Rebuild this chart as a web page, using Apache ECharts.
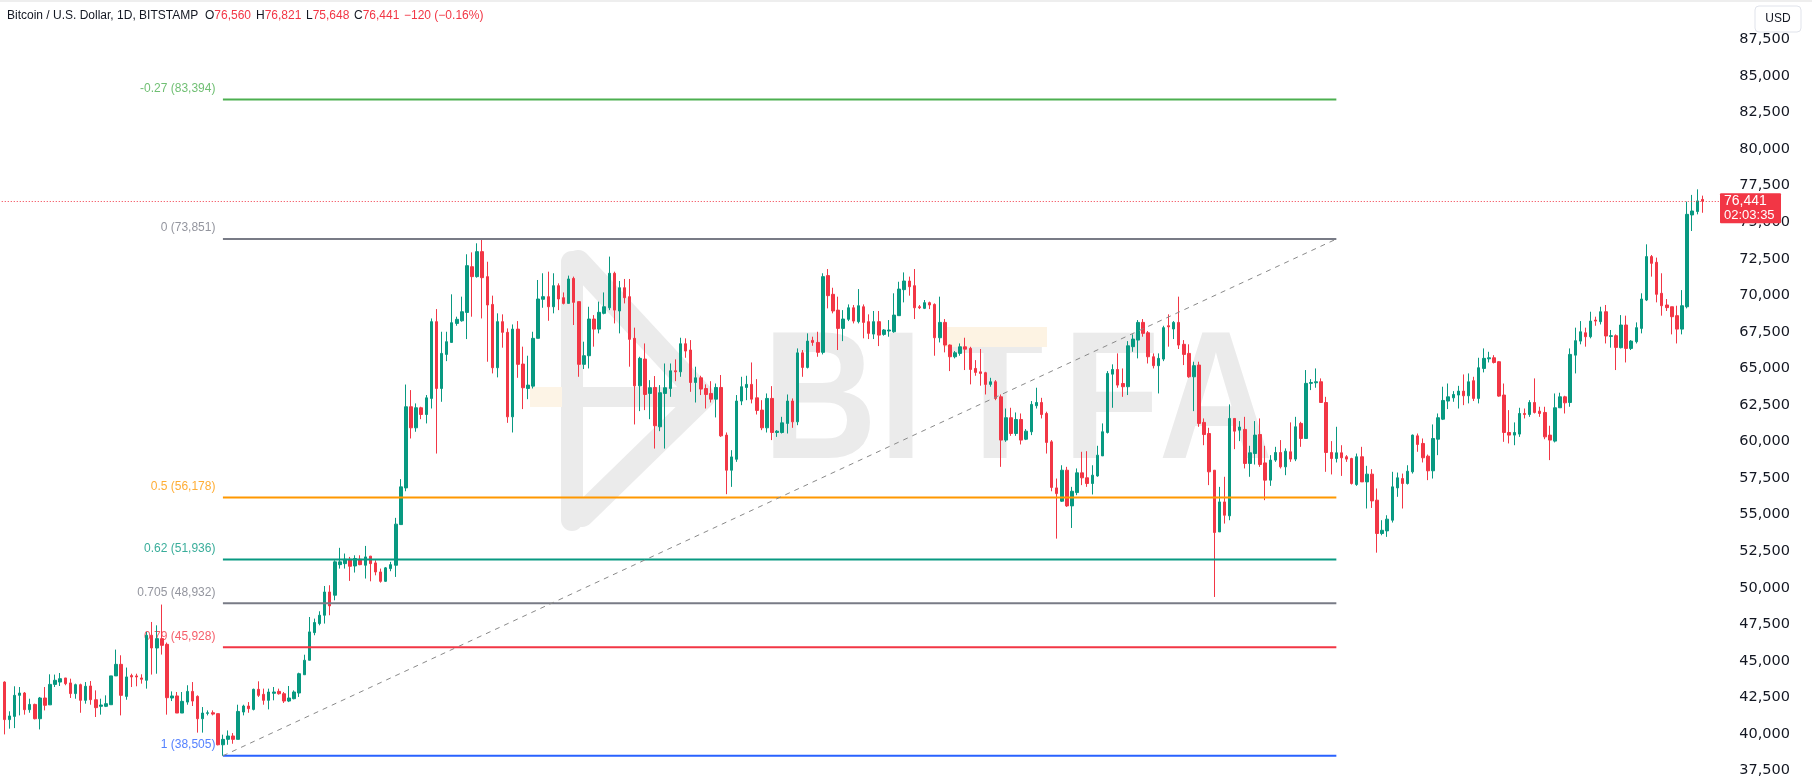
<!DOCTYPE html>
<html><head><meta charset="utf-8">
<script src="https://cdn.jsdelivr.net/npm/echarts@6/dist/echarts.min.js"></script>
<style>html,body{margin:0;padding:0;background:#fff;}#c{width:1812px;height:780px;}</style>
</head><body><div id="c"></div>
<script>
// ---- candle values (BTC/USD 1D, BITSTAMP) ----
const open = [
43550,40980,41200,42640,42800,41660,42020,41040,42460,41990,
43390,43550,43830,43490,42760,43370,42300,43280,42340,41890,
41890,42000,43970,44760,42570,43990,43970,43830,43670,46750,
45880,46520,46130,42460,42600,41430,42180,42910,42570,41040,
41410,41450,41390,
39260,39630,39860,39630,41500,41910,41680,
43050,42710,42300,42780,42910,42750,42250,42410,42800,44050,
45040,46930,47550,48120,49710,49490,51580,51650,51950,51490,
51950,51540,52160,51700,51080,50440,51310,51540,54320,56830,
62380,60940,62310,61850,62950,68200,63630,65960,66780,68080,
68260,68830,71960,71280,72990,71280,69380,65050,68200,67470,
61690,67690,65300,63630,63790,67060,69730,69910,69220,70660,
69840,69450,71160,69570,65280,65870,68380,
67690,68770,69150,
71510,68930,70520,69910,67060,63810,65640,63290,63700,61010,
63290,63630,64840,64770,66690,66260,64040,64360,63630,63290,
62900,63700,60440,58040,58790,62770,63700,63910,62990,62150,
60940,62950,60620,60620,
61240,62770,61350,66070,65070,66920,
66780,66100,71350,70070,68990,67740,68360,69150,68200,69220,
68200,67350,68200,67330,67560,67510,68610,70390,70980,70660,
69220,69110,69500,69380,67100,68150,66600,65800,66030,66480,
66370,65000,
64770,64710,63910,64090,63060,60100,61630,60550,
61510,60160,60670,62450,62670,61920,59980,56830,55920,58040,
55600,56510,57860,57520,57130,57650,59020,60620,64610,64930,
63970,63750,66490,66940,68150,67440,65800,65190,65640,
67920,67700,68150,66650,66030,64430,65230,61310,60550,58040,53820,
55870,54920,61580,60780,60830,58500,59180,60480,58540,57360,
58730,59250,58270,59300,58800,61240,60210,63980,64020,64090,
62670,59250,58840,59230,58960,58840,
57060,58960,57240,57770,55990,53710,53890,54620,56830,57470,
57130,57930,60390,59870,59000,58000,60160,61530,62770,62990,
63180,63450,63130,64160,62950,65000,65660,65730,65460,63180,
60620,60440,60510,61920,61850,62670,62080,
61990,60440,60030,62310,63060,62670,65910,66870,67440,67170,
68310,68200,68880,67190,67240,66420,67970,66370,66830,67740,
69680,72650,72260,70140,69340,69220,68610,67690,69220,75500,75730,76560];
const high = [
43600,41550,43260,43210,42870,42410,42070,42530,43210,44080,
44060,44170,43830,43780,43440,43440,43550,43620,42980,42410,
42640,43970,45770,45380,44540,44120,44120,44080,46980,47660,
47430,48850,46250,42910,42870,42870,43330,43550,42640,41840,
41610,41610,41390,
39950,40240,40060,42000,42000,42180,43100,
43600,43100,43100,43210,43100,42870,43280,42980,44190,45420,
48000,47890,48390,50120,50170,51880,52730,52340,52110,52220,
52220,52860,52180,51880,51310,51420,51770,54780,57430,63900,
63520,62610,62380,63180,68420,69060,67510,67510,70070,68540,
69910,72810,72940,73560,73851,72300,69980,68770,68700,67740,
68010,68240,66490,65870,67510,71050,71510,71620,71510,70820,
70200,71350,71280,69570,66830,69220,68650,
69570,70200,72650,
71620,70980,71120,71120,67790,65800,66710,64200,64480,63860,
65340,65340,65620,67100,67060,66940,65120,64500,63910,64130,
63970,64550,60620,59410,63180,64430,64500,65410,64270,62830,
63290,63790,60780,61690,
63220,62950,66370,66260,67400,67170,
67510,71510,71800,70520,69910,68990,69380,69340,70430,69380,
68700,68930,68930,67690,68310,70140,70930,71570,71280,71800,
69340,69680,69570,69450,69910,68380,66640,66190,66710,67100,
66480,65570,
66330,64770,64360,64200,63220,62260,62310,61990,
61920,60850,62770,63680,62990,62040,60100,57470,58380,58270,
56900,58160,59300,59340,58380,59710,61240,64820,65280,66030,
65000,66870,67330,68310,68380,67560,66030,66030,67920,
68700,68240,69910,66940,66650,65460,65460,61580,60940,58040,56900,
57590,62540,61580,61400,61690,59710,61400,61580,59710,59070,
59640,60100,59530,61310,61690,61350,64890,64270,65000,64320,
63060,60030,61010,59750,59070,58890,
59180,59640,58340,58110,56790,54620,54960,57930,57880,57810,
58380,60480,60550,60210,59110,61170,61920,63750,63970,63450,
63810,64590,64660,64430,65730,66370,66140,65910,65500,63970,
62150,61310,62310,62260,62830,64320,62380,
62380,61080,63290,63340,63130,66370,67790,68240,67790,68880,
68540,69220,69340,67630,67330,68650,68610,66940,68150,70140,
73490,72760,72580,71510,69750,69220,69290,70360,76410,76870,77250,76821];
const low = [
39970,40360,40400,41270,41320,41450,41000,40310,41610,41990,
43210,43280,43330,42460,42410,41450,42070,42000,41160,41320,
41840,42000,43970,41270,42340,43210,43260,43440,43100,44060,
44120,45430,41320,42250,41430,41430,42000,41910,40090,40090,
41270,41270,39220,
38505,39260,39330,39630,41270,41450,41610,
42530,42000,41680,42300,42690,42120,42180,42370,42530,44050,
45040,46750,47430,47550,48120,49140,51310,51310,50470,51040,
51540,50630,50440,50850,50350,50400,51130,50740,54320,56600,
60210,60670,61530,61240,62260,59180,62720,65500,66780,67920,
68200,67010,68540,71210,68420,65460,64660,64390,66420,61280,
60620,64360,62220,62900,63630,67060,69150,68260,68770,68990,
69380,69450,67970,64430,64960,65000,66490,
67400,68700,68990,
68080,67400,69450,65120,61170,62080,62150,61530,59520,60710,
59520,63060,64130,64430,65730,63400,62670,63180,62260,62670,
61650,60320,56400,56900,58610,62490,62830,62610,61850,60780,
60620,60100,60320,60550,
60550,60940,61120,64430,65000,66550,
65800,65960,69110,68770,66260,66870,68240,68080,68080,67060,
67010,67010,66530,67240,67170,67440,68610,69520,69980,68380,
69060,69060,69060,65870,66780,66100,64820,65690,65870,64890,
63910,64500,
63820,63220,63750,62830,58270,59980,60390,60390,
59800,60100,60440,62260,61580,59180,56600,53360,55870,55530,
54090,56330,57020,56900,56380,57590,59020,60550,62310,63680,
63060,63180,66140,65690,67170,65340,65000,63290,65500,
66490,67010,66330,65230,64360,62080,61010,59750,57020,49370,53820,
54390,54620,59480,60030,58160,57590,58430,58270,55990,56970,
58610,58160,57700,58610,58660,59640,60210,63520,63680,62670,
57930,57750,58570,57650,58610,57060,
56970,57240,55420,55460,52400,53590,53480,54460,56220,55420,
57060,57810,59300,58570,57360,57470,59070,61470,62220,62720,
62260,62490,62610,62770,62610,64730,65410,65340,63060,59980,
59870,59750,60320,61580,61690,61920,61690,
60160,58730,59940,62310,61920,62380,64660,66650,66490,67060,
67920,68010,66710,66420,64890,66370,65410,66260,66710,67400,
69610,71280,69520,68610,68930,67330,66710,67330,69110,74400,75540,75648];
const close = [
40980,41230,42640,42800,41660,42020,41040,42460,41960,43390,
43670,43780,43440,42760,43370,42300,43260,42340,41800,41980,
42070,43970,44760,42640,43900,43900,43900,43740,46750,45880,
46520,46060,42480,42600,41430,42230,42910,42250,41040,41430,
41450,41360,39260,
39630,39860,39630,41540,41910,41730,43050,
42640,42300,42870,42870,42750,42250,42460,42870,44120,45040,
46980,47620,48120,49710,48760,51770,51770,51950,51470,52000,
51580,52110,51650,51080,50440,51360,51580,54350,56900,62380,
60940,62310,61850,62990,68200,63630,66030,66830,68130,68360,
68880,72030,71280,72990,71210,69340,65050,68200,67470,61690,
67690,65280,63680,63860,67060,69750,69910,69220,70660,69750,
69450,71120,69520,65280,65870,68380,67690,
68840,69220,71510,
68990,70520,69840,66990,63810,65690,63220,63680,61080,63340,
63680,64840,64770,66690,66190,64040,64360,63590,63220,62900,
63700,60390,58040,58950,62770,63750,63910,62900,62130,60940,
62950,60620,60710,61280,
62770,61350,66070,65070,66870,66780,
66100,71280,69980,68930,67740,68380,69150,68240,69290,68150,
67400,68200,67280,67630,67630,68650,70430,70980,70590,69150,
69150,69500,69340,67100,68150,66600,65800,66070,66480,66320,
64930,64730,
64660,63910,64090,62950,60100,61630,60550,61510,
60100,60710,62540,62670,61850,59940,56860,56440,58040,55600,
56600,57860,57520,57130,57700,59070,60670,64660,64930,63860,
63750,66550,67010,68150,67400,65800,65190,65690,67790,
67850,68150,66600,65960,64430,65190,61240,60480,57930,53780,55870,
54960,61580,60710,60990,58500,59230,60440,58430,57360,58730,
59250,58270,59340,58800,61010,60210,63980,64040,64090,62670,
59250,58840,59230,58890,58800,57130,
58960,57240,57770,55940,53710,53930,54690,56900,57520,57130,
57970,60440,59800,58890,58000,60210,61630,62810,63060,63220,
63450,63130,64090,62950,65050,65690,65730,65410,63110,60620,
60440,60620,61920,61850,62670,61990,61920,
60320,60100,62310,63060,62650,65960,66900,67510,67170,68240,
68240,68880,67220,67240,66440,67970,66370,66870,67790,69750,
72650,72190,70070,69290,69160,68540,67690,69290,75540,75770,76460,76441];

// ---- Fibonacci retracement drawing ----
const fibLevels = ['-0.27', '0', '0.5', '0.62', '0.705', '0.79', '1'];
const fibPrices = [83394, 73851, 56178, 51936, 48932, 45928, 38505];
const fibColors = ['#4caf50', '#787b86', '#ff9800', '#089981', '#787b86', '#f23645', '#2962ff'];
const fibStartBar = 43, fibEndBar = 262;

// ---- axis ticks / header ----
const yMin = 37500, yMax = 87500, yStep = 2500;
const lastPrice = 76441, countdown = '02:03:35';
const legendTitle = 'Bitcoin / U.S. Dollar, 1D, BITSTAMP';
const legendOHLC = [['O', '76,560'], ['H', '76,821'], ['L', '75,648'], ['C', '76,441']];
const legendChange = '\u2212120 (\u22120.16%)';

const padBars = 3;
const categories = [];
for (let i = 0; i < open.length + padBars; i++) categories.push('d' + i);

const fmt = v => v.toLocaleString('en-US');
const candleData = open.map((o, i) => [o, close[i], low[i], high[i]]);

const series = [{
  type: 'candlestick', data: candleData, z: 3, barWidth: 3,
  itemStyle: { color: '#089981', color0: '#f23645', borderColor: '#089981', borderColor0: '#f23645', borderWidth: 1 },
  markLine: {
    silent: true, symbol: ['none', 'none'], animation: false,
    lineStyle: { color: '#f23645', type: [1, 2], width: 1 },
    label: { show: false },
    data: [{ yAxis: lastPrice }]
  }
}];
fibPrices.forEach((p, k) => {
  series.push({
    type: 'line', z: 4, silent: true, symbol: 'none',
    lineStyle: { color: fibColors[k], width: 2 },
    data: [[fibStartBar, p], [fibEndBar, p]]
  });
});
series.push({
  type: 'line', z: 4, silent: true, symbol: 'none',
  lineStyle: { color: '#8a8a8a', width: 1, type: [5, 5] },
  data: [[fibStartBar, fibPrices[6]], [fibEndBar, fibPrices[1]]]
});
series.push({
  type: 'scatter', z: 2, silent: true, symbolSize: 1,
  itemStyle: { color: 'rgba(0,0,0,0)' },
  data: fibPrices.map((p, k) => ({
    value: [fibStartBar, p],
    label: {
      show: true, position: 'left', distance: 7, offset: [0, -11],
      color: fibColors[k], fontSize: 12, fontFamily: 'Liberation Sans',
      formatter: fibLevels[k] + ' (' + fmt(p) + ')'
    }
  }))
});

const chart = echarts.init(document.getElementById('c'), null, { renderer: 'canvas' });
chart.setOption({
  animation: false,
  backgroundColor: '#ffffff',
  grid: { left: 1.76, right: 91.8, top: 39.5, bottom: 9.5, containLabel: false },
  xAxis: { type: 'category', data: categories, show: false, boundaryGap: true },
  yAxis: {
    type: 'value', position: 'right', min: yMin, max: yMax, interval: yStep, scale: false,
    splitLine: { show: false }, axisLine: { show: false }, axisTick: { show: false },
    axisLabel: { margin: 19, color: '#131722', fontSize: 14.5, fontFamily: 'DejaVu Sans',
      padding: [0, 0, 4, 0],
      showMinLabel: true, showMaxLabel: true, formatter: v => fmt(v) }
  },
  series: series
});

// ---- decorations: watermark, legend, USD box, price tag ----
const py = chart.convertToPixel({ yAxisIndex: 0 }, lastPrice);
const wm = '#ebebeb';
const g = [];
g.push({ type: 'rect', z: 100, shape: { x: 0, y: 0, width: 1812, height: 2 }, style: { fill: '#eeeeee' } });
// watermark logo
g.push({ type: 'polyline', z: 0, silent: true, shape: { points: [[572, 262], [572, 520]] }, style: { stroke: wm, lineWidth: 22, lineCap: 'round', fill: null } });
g.push({ type: 'polyline', z: 0, silent: true, shape: { points: [[578, 262], [703, 397], [582, 515]] }, style: { stroke: wm, lineWidth: 24, lineCap: 'round', lineJoin: 'round', fill: null } });
g.push({ type: 'polyline', z: 0, silent: true, shape: { points: [[560, 397], [700, 397]] }, style: { stroke: wm, lineWidth: 20, fill: null } });
g.push({ type: 'rect', z: 0, silent: true, shape: { x: 530, y: 387, width: 32, height: 20 }, style: { fill: '#fdf4e6' } });
[['B', 820], ['I', 901], ['T', 995], ['F', 1111], ['A', 1216]].forEach(([ch, cx]) => {
  g.push({ type: 'text', z: 0, silent: true, x: cx, y: 408, scaleX: 0.87,
    style: { text: ch, x: 0, y: 0, align: 'center', verticalAlign: 'middle', font: 'bold 182px "Liberation Sans"', fill: wm } });
});
g.push({ type: 'rect', z: 1, silent: true, shape: { x: 943, y: 327, width: 104, height: 20 }, style: { fill: '#fdf3e3' } });
// legend
g.push({ type: 'text', z: 100, x: 7, y: 16, style: { text: legendTitle, verticalAlign: 'middle', font: '12px "Liberation Sans"', fill: '#131722' } });
const ox = [205, 256, 306, 354];
legendOHLC.forEach(([k, v], i) => {
  g.push({ type: 'text', z: 100, x: ox[i], y: 16, style: {
    text: k + '{v|' + v + '}', verticalAlign: 'middle', font: '12px "Liberation Sans"', fill: '#131722',
    rich: { v: { fill: '#f23645', font: '12px "Liberation Sans"' } } } });
});
g.push({ type: 'text', z: 100, x: 404, y: 16, style: { text: legendChange, verticalAlign: 'middle', font: '12px "Liberation Sans"', fill: '#f23645' } });
// USD box
g.push({ type: 'rect', z: 100, shape: { x: 1755, y: 6, width: 46, height: 26, r: 4 }, style: { fill: '#ffffff', stroke: '#e0e3eb', lineWidth: 1 } });
g.push({ type: 'text', z: 101, x: 1778, y: 19, style: { text: 'USD', align: 'center', verticalAlign: 'middle', font: '12px "Liberation Sans"', fill: '#131722' } });
// price tag
g.push({ type: 'rect', z: 100, shape: { x: 1720, y: py - 8, width: 61, height: 30, r: 1 }, style: { fill: '#f23645' } });
g.push({ type: 'text', z: 101, x: 1724, y: py, style: { text: fmt(lastPrice), verticalAlign: 'middle', font: '14px "Liberation Sans"', fill: '#ffffff' } });
g.push({ type: 'text', z: 101, x: 1724, y: py + 14, style: { text: countdown, verticalAlign: 'middle', font: '13px "Liberation Sans"', fill: '#ffffff' } });
chart.setOption({ graphic: g });
</script></body></html>
